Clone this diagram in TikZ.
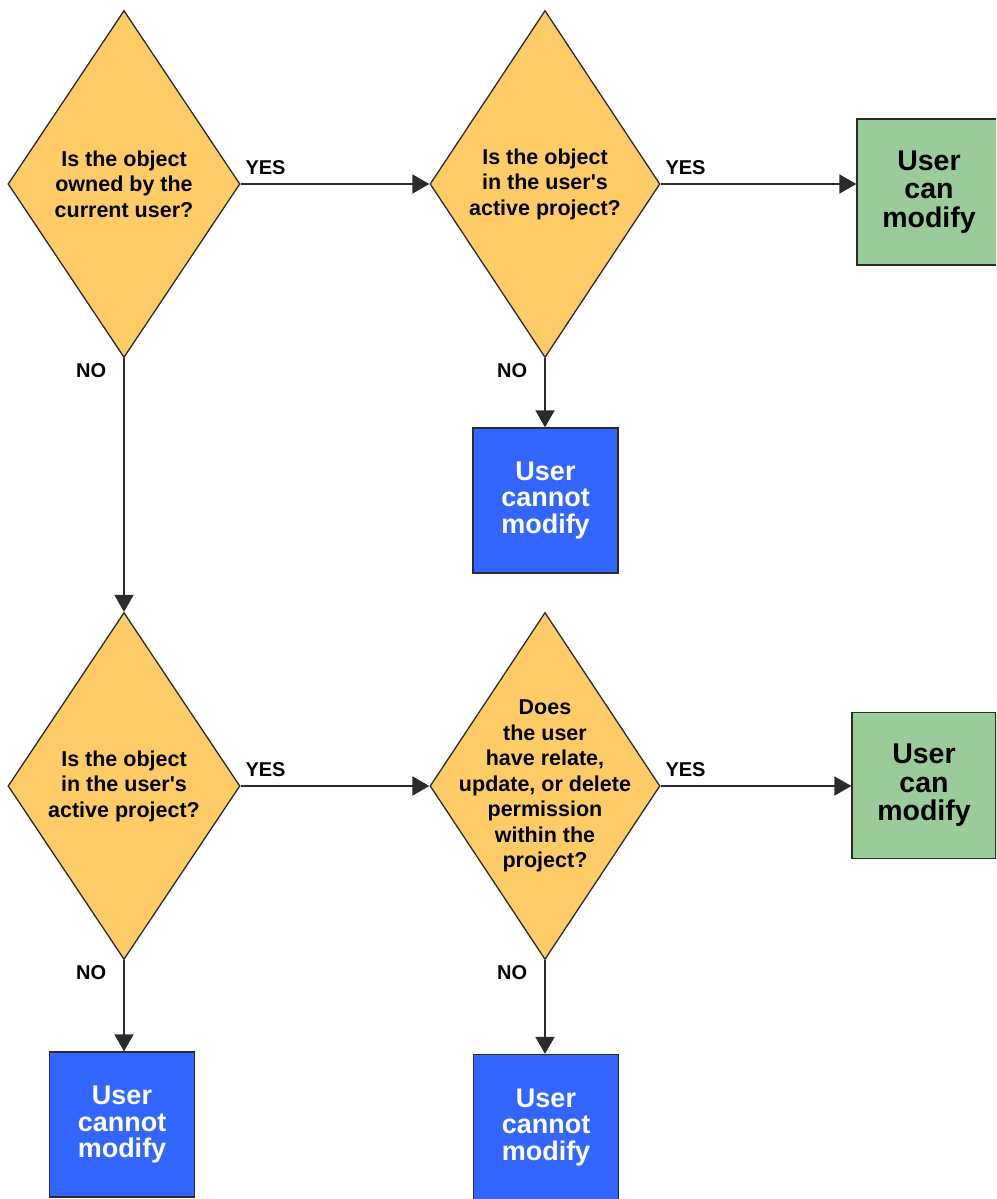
\documentclass[tikz,border=0pt]{standalone}
\usepackage{fontspec}
\setmainfont{Liberation Sans}[Ligatures=TeXOff]
\usetikzlibrary{shapes.geometric, arrows.meta}
\definecolor{askfill}{HTML}{FECC66}
\definecolor{canfill}{HTML}{99CC99}
\definecolor{nofill}{HTML}{3366FF}
\definecolor{edge}{HTML}{2B2B2B}
\begin{document}
\begin{tikzpicture}[x=1pt, y=-1pt, >={Triangle[length=17pt, width=19pt]},
    ask/.style={diamond, draw=edge, line width=1.3pt, fill=askfill, inner sep=0pt,
        minimum width=232pt, minimum height=347pt},
    asktext/.style={align=center, font=\bfseries\fontsize{21.5}{25.5}\selectfont},
    canbox/.style={rectangle, draw=edge, line width=1.3pt, fill=canfill, align=center,
        minimum width=144pt, minimum height=146pt, font=\bfseries\fontsize{28.5}{28.5}\selectfont},
    nobox/.style={rectangle, draw=edge, line width=1.3pt, fill=nofill, text=white, align=center,
        minimum width=145pt, minimum height=145pt, font=\bfseries\fontsize{27}{26.5}\selectfont},
    flow/.style={->, draw=edge, line width=1.8pt},
    lab/.style={font=\bfseries\fontsize{20}{22}\selectfont, inner sep=4pt}]
    % 1. 画布范围 (与原图同比例)
    \useasboundingbox (0,0) rectangle (996,1199);
    \clip (0,0) rectangle (996,1199);

    % 2. 判断菱形
    \node[ask, label={[asktext]center:Is the object\\owned by the\\current user?}] (own) at (124,184) {};
    \node[ask, minimum width=230pt, label={[asktext]center:Is the object\\in the user's\\active project?}] (actA) at (545,184) {};
    \node[ask, label={[asktext]center:Is the object\\in the user's\\active project?}] (actB) at (124,786) {};
    \node[ask, minimum width=230pt, label={[asktext]center:Does\\the user\\have relate,\\update, or delete\\permission\\within the\\project?}] (perm) at (545,786) {};

    % 3. 结果方框
    \node[canbox] (canA) at (929,192) {User\\can\\modify};
    \node[canbox] (canB) at (924,785.5) {User\\can\\modify};
    \node[nobox] (notA) at (545.5,500.5) {User\\cannot\\modify};
    \node[nobox] (notB) at (122,1124.5) {User\\cannot\\modify};
    \node[nobox] (notC) at (546,1127) {User\\cannot\\modify};

    % 4. 连线与 YES / NO 标注
    \draw[flow] (own.east) -- node[lab, pos=0, anchor=south west, yshift=4pt] {YES} (actA.west);
    \draw[flow] (actA.east) -- node[lab, pos=0, anchor=south west, yshift=4pt] {YES} (actA.east -| canA.west);
    \draw[flow] (actA.south) -- node[lab, pos=0, anchor=north east, xshift=-13pt] {NO} (actA.south |- notA.north);
    \draw[flow] (own.south) -- node[lab, pos=0, anchor=north east, xshift=-13pt] {NO} (actB.north);
    \draw[flow] (actB.east) -- node[lab, pos=0, anchor=south west, yshift=4pt] {YES} (perm.west);
    \draw[flow] (perm.east) -- node[lab, pos=0, anchor=south west, yshift=4pt] {YES} (perm.east -| canB.west);
    \draw[flow] (actB.south) -- node[lab, pos=0, anchor=north east, xshift=-13pt] {NO} (actB.south |- notB.north);
    \draw[flow] (perm.south) -- node[lab, pos=0, anchor=north east, xshift=-13pt] {NO} (perm.south |- notC.north);
\end{tikzpicture}
\end{document}
